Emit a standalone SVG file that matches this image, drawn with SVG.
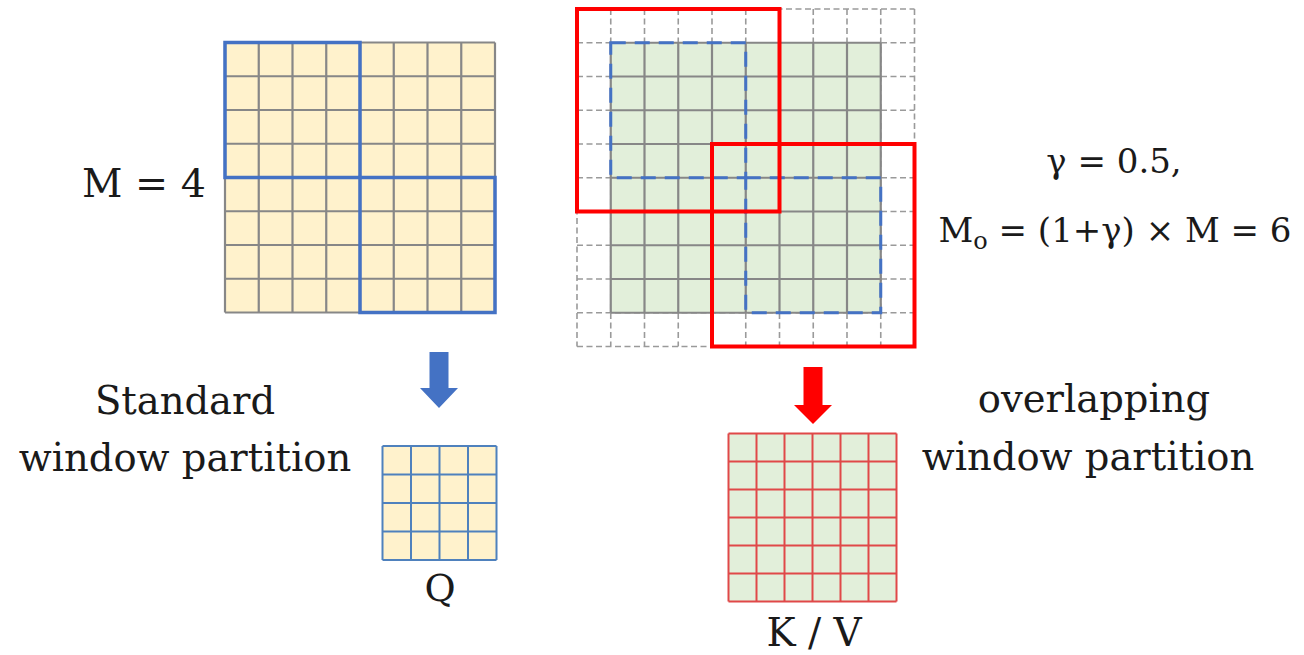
<svg xmlns="http://www.w3.org/2000/svg" width="1304" height="655" viewBox="0 0 1304 655">
<style>
  text { font-family: "DejaVu Serif", "Liberation Serif", serif; fill: #1a1a1a; }
  .lbl { font-size: 38.5px; }
  .eq { font-size: 34px; }
  .grid { fill: none; stroke: #878787; stroke-width: 2.2; }
  .dgrid { fill: none; stroke: #9a9a9a; stroke-width: 1.6; stroke-dasharray: 6 3.5; }
  .bluebox { fill: none; stroke: #4472C4; stroke-width: 3.5; }
  .bluedash { fill: none; stroke: #4472C4; stroke-width: 3; stroke-dasharray: 15 9; }
  .redbox { fill: none; stroke: #FF0000; stroke-width: 4; }
</style>

<g id="standard-grid">
  <rect x="225" y="42.5" width="270" height="270" fill="#FFF2CC"/>
  <path class="grid" d="M225 42.5V312.5M258.75 42.5V312.5M292.5 42.5V312.5M326.25 42.5V312.5M360 42.5V312.5M393.75 42.5V312.5M427.5 42.5V312.5M461.25 42.5V312.5M495 42.5V312.5
  M225 42.5H495M225 76.25H495M225 110H495M225 143.75H495M225 177.5H495M225 211.25H495M225 245H495M225 278.75H495M225 312.5H495"/>
  <rect class="bluebox" x="225" y="42.5" width="135" height="135"/>
  <rect class="bluebox" x="360" y="177.5" width="135" height="135"/>
</g>

<g id="m-label">
  <text x="144" y="197" font-size="39.5" text-anchor="middle">M = 4</text>
</g>

<g id="overlap-grid">
  <path class="dgrid" d="M577 9V346.5M610.75 9V346.5M644.5 9V346.5M678.25 9V346.5M712 9V346.5M745.75 9V346.5M779.5 9V346.5M813.25 9V346.5M847 9V346.5M880.75 9V346.5M914.5 9V346.5
  M577 9H914.5M577 42.75H914.5M577 76.5H914.5M577 110.25H914.5M577 144H914.5M577 177.75H914.5M577 211.5H914.5M577 245.25H914.5M577 279H914.5M577 312.75H914.5M577 346.5H914.5"/>
  <rect x="610.75" y="42.75" width="270" height="270" fill="#E2EFDA"/>
  <path class="grid" d="M610.75 42.75V312.75M644.5 42.75V312.75M678.25 42.75V312.75M712 42.75V312.75M745.75 42.75V312.75M779.5 42.75V312.75M813.25 42.75V312.75M847 42.75V312.75M880.75 42.75V312.75
  M610.75 42.75H880.75M610.75 76.5H880.75M610.75 110.25H880.75M610.75 144H880.75M610.75 177.75H880.75M610.75 211.5H880.75M610.75 245.25H880.75M610.75 279H880.75M610.75 312.75H880.75"/>
  <rect class="bluedash" x="610.75" y="42.75" width="135" height="135"/>
  <rect class="bluedash" x="745.75" y="177.75" width="135" height="135"/>
  <rect class="redbox" x="577" y="9" width="202.5" height="202.5"/>
  <rect class="redbox" x="712" y="144" width="202.5" height="202.5"/>
</g>

<g id="equations">
  <text class="eq" x="1114" y="173" text-anchor="middle">γ = 0.5,</text>
  <text class="eq" x="1115" y="242" text-anchor="middle">M<tspan font-size="24" dy="7">o</tspan><tspan dy="-7"> = (1+γ) × M = 6</tspan></text>
</g>

<g id="standard-label">
  <text class="lbl" x="185" y="414" text-anchor="middle">Standard</text>
  <text class="lbl" x="185" y="471" text-anchor="middle">window partition</text>
</g>

<g id="overlap-label">
  <text class="lbl" x="1094" y="412" text-anchor="middle">overlapping</text>
  <text class="lbl" x="1088" y="470" text-anchor="middle">window partition</text>
</g>

<g id="q-grid">
  <rect x="382.5" y="446" width="114" height="114" fill="#FFF2CC"/>
  <path fill="none" stroke="#4F81BD" stroke-width="2" d="M382.5 446V560M411 446V560M439.5 446V560M468 446V560M496.5 446V560M382.5 446H496.5M382.5 474.5H496.5M382.5 503H496.5M382.5 531.5H496.5M382.5 560H496.5"/>
  <text x="440" y="601" font-size="38" text-anchor="middle">Q</text>
</g>

<g id="kv-grid">
  <rect x="728.5" y="433.5" width="168" height="168" fill="#E2EFDA"/>
  <path fill="none" stroke="#E04848" stroke-width="2" d="M728.5 433.5V601.5M756.5 433.5V601.5M784.5 433.5V601.5M812.5 433.5V601.5M840.5 433.5V601.5M868.5 433.5V601.5M896.5 433.5V601.5M728.5 433.5H896.5M728.5 461.5H896.5M728.5 489.5H896.5M728.5 517.5H896.5M728.5 545.5H896.5M728.5 573.5H896.5M728.5 601.5H896.5"/>
  <text x="814" y="646" font-size="39" text-anchor="middle">K / V</text>
</g>

<g id="connectors">
  <polygon fill="#4472C4" points="429.5,352 448.5,352 448.5,388 458,388 439,408 420,388 429.5,388"/>
  <polygon fill="#FF0000" points="803.5,367 822.5,367 822.5,405 832,405 813,424 794,405 803.5,405"/>
</g>
</svg>
